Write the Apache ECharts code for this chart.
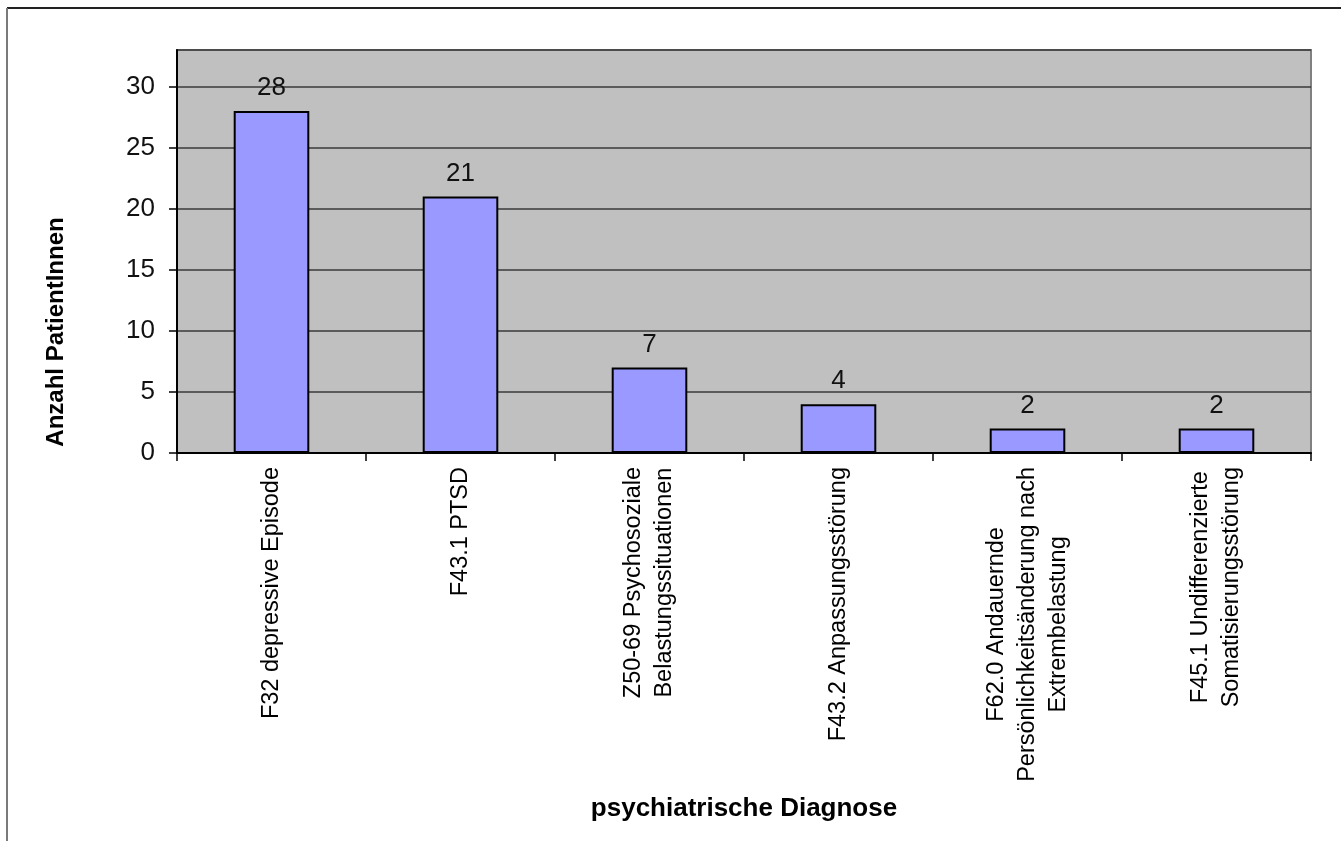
<!DOCTYPE html>
<html>
<head>
<meta charset="utf-8">
<script src="https://cdn.jsdelivr.net/npm/echarts@6/dist/echarts.min.js"></script>
<style>
  html, body { margin: 0; padding: 0; background: #fff; }
  #chart { width: 1341px; height: 841px; }
</style>
</head>
<body>
<div id="chart"></div>
<script>
// Diagnoses (multi-line labels separated by \n)
const categories = [
  'F32 depressive Episode',
  'F43.1 PTSD',
  'Z50-69 Psychosoziale\nBelastungssituationen',
  'F43.2 Anpassungsstörung',
  'F62.0 Andauernde\nPersönlichkeitsänderung nach\nExtrembelastung',
  'F45.1 Undifferenzierte\nSomatisierungsstörung'
];
// Number of patients per diagnosis
const patients = [28, 21, 7, 4, 2, 2];
const yTicks = [0, 5, 10, 15, 20, 25, 30];

const FONT = '"Liberation Sans", Arial, sans-serif';
const chart = echarts.init(document.getElementById('chart'), null, { renderer: 'canvas' });

chart.setOption({
  backgroundColor: '#ffffff',
  animation: false,
  grid: {
    left: 177, top: 50, right: 30, bottom: 388,
    show: true,
    backgroundColor: '#C0C0C0',
    borderColor: '#808080',
    borderWidth: 2
  },
  xAxis: {
    type: 'category',
    data: categories,
    boundaryGap: true,
    name: 'psychiatrische Diagnose',
    nameLocation: 'middle',
    nameGap: 343,
    nameTextStyle: { fontFamily: FONT, fontWeight: 'bold', fontSize: 26, color: '#000', verticalAlign: 'top' },
    axisLine: { lineStyle: { color: '#000', width: 2 } },
    axisTick: { show: true, alignWithLabel: false, length: 8, lineStyle: { color: '#000', width: 1.5 } },
    axisLabel: {
      interval: 0,
      rotate: 90,
      margin: 14,
      formatter: v => v.split('\n').map(s => '{c|' + s + '}').join('\n'),
      rich: {
        c: { fontFamily: FONT, fontSize: 23.5, lineHeight: 31, color: '#000', align: 'center' }
      }
    },
    splitLine: { show: false }
  },
  yAxis: {
    type: 'value',
    min: yTicks[0],
    max: 33,
    interval: 5,
    axisLine: { show: true, lineStyle: { color: '#000', width: 2 } },
    axisTick: { show: true, length: 8, lineStyle: { color: '#000', width: 1.5 } },
    axisLabel: {
      margin: 22,
      fontFamily: FONT, fontSize: 26, color: '#111',
      showMaxLabel: false,
      formatter: v => (yTicks.indexOf(v) >= 0 ? String(v) : '')
    },
    splitLine: { show: true, lineStyle: { color: '#3a3a3a', width: 1.5 } }
  },
  series: [{
    type: 'bar',
    data: patients,
    barWidth: '40%',
    itemStyle: { color: '#9999FF', borderColor: '#000', borderWidth: 2 },
    label: {
      show: true,
      position: 'top',
      distance: 10,
      fontFamily: FONT, fontSize: 26, color: '#111'
    }
  }],
  graphic: [
    // outer chart frame (top and left edges)
    { type: 'line', shape: { x1: 7, y1: 8, x2: 1341, y2: 8 }, style: { stroke: '#222', lineWidth: 2 } },
    { type: 'line', shape: { x1: 7, y1: 8, x2: 7, y2: 841 }, style: { stroke: '#7a7a7a', lineWidth: 2 } },
    // value axis title
    {
      type: 'text',
      x: 56, y: 332,
      rotation: Math.PI / 2,
      style: {
        text: 'Anzahl PatientInnen',
        fontFamily: FONT, fontWeight: 'bold', fontSize: 24, fill: '#000',
        align: 'center', verticalAlign: 'middle'
      }
    }
  ]
});
</script>
</body>
</html>
